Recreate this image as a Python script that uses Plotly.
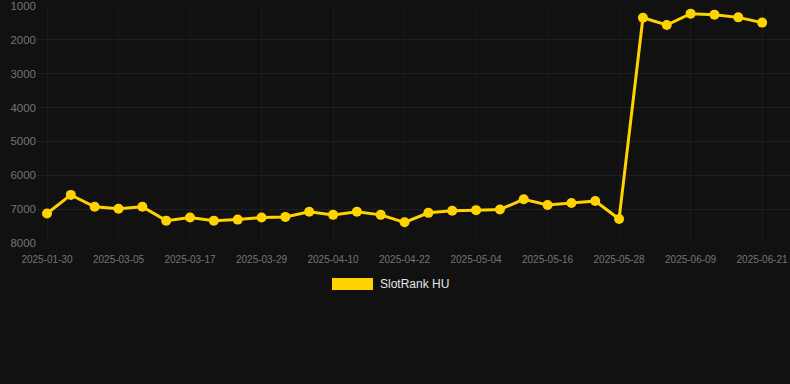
import plotly.graph_objects as go

dates = ["2025-01-30", "2025-02-25", "2025-03-01", "2025-03-05", "2025-03-09", "2025-03-13",
         "2025-03-17", "2025-03-21", "2025-03-25", "2025-03-29", "2025-04-02", "2025-04-06",
         "2025-04-10", "2025-04-14", "2025-04-18", "2025-04-22", "2025-04-26", "2025-04-30",
         "2025-05-04", "2025-05-08", "2025-05-12", "2025-05-16", "2025-05-20", "2025-05-24",
         "2025-05-28", "2025-06-01", "2025-06-05", "2025-06-09", "2025-06-13", "2025-06-17",
         "2025-06-21"]
ranks = [7130, 6580, 6930, 6990, 6930, 7340, 7250, 7340, 7310, 7250, 7230, 7080,
         7170, 7080, 7170, 7390, 7110, 7050, 7030, 7010, 6710, 6880, 6820, 6760,
         7290, 1345, 1560, 1225, 1255, 1335, 1490]
tick_labels = ["2025-01-30", "2025-03-05", "2025-03-17", "2025-03-29", "2025-04-10",
               "2025-04-22", "2025-05-04", "2025-05-16", "2025-05-28", "2025-06-09",
               "2025-06-21"]
y_ticks = [1000, 2000, 3000, 4000, 5000, 6000, 7000, 8000]
series_name = "SlotRank HU"

GOLD = "#FFD300"
BG = "#111111"
FONT = "Liberation Sans, Arial, sans-serif"

fig = go.Figure()
fig.add_trace(go.Scatter(
    x=dates, y=ranks, mode="lines+markers", name=series_name,
    line=dict(color=GOLD, width=3),
    marker=dict(color=GOLD, size=10),
    showlegend=False,
    cliponaxis=False,
))

# legend swatch + label
fig.add_shape(type="rect", xref="paper", yref="paper",
              x0=(332 - 37) / 753, x1=(373 - 37) / 753,
              y0=-(278 - 243) / 237, y1=-(290 - 243) / 237,
              fillcolor=GOLD, line=dict(width=0))
fig.add_annotation(xref="paper", yref="paper", x=(378 - 37) / 753, y=-(284 - 243) / 237,
                   text=series_name, showarrow=False, xanchor="left", yanchor="middle",
                   font=dict(family=FONT, size=12, color="#e6e6e6"))

fig.update_layout(
    width=790, height=384,
    paper_bgcolor=BG, plot_bgcolor=BG,
    margin=dict(l=37, r=0, t=6, b=141),
    font=dict(family=FONT, color="#808080"),
    xaxis=dict(
        type="category", range=[-0.42, 31.17],
        tickmode="array", tickvals=tick_labels, ticktext=tick_labels,
        tickfont=dict(size=10, color="#747474"),
        ticklabelstandoff=9,
        showgrid=True, gridcolor="#1a1a1a", gridwidth=1,
        zeroline=False, showline=False, ticks="",
    ),
    yaxis=dict(
        range=[8001, 999], tickmode="array", tickvals=y_ticks,
        tickfont=dict(size=11.5, color="#747474"),
        ticklabeloverflow="allow",
        showgrid=True, gridcolor="#1f1f1f", gridwidth=1,
        zeroline=False, showline=False, ticks="",
    ),
)

fig.write_html("out.html", config={"displayModeBar": False},
               post_script="document.body.style.margin='0';document.body.style.background='#111111';")
